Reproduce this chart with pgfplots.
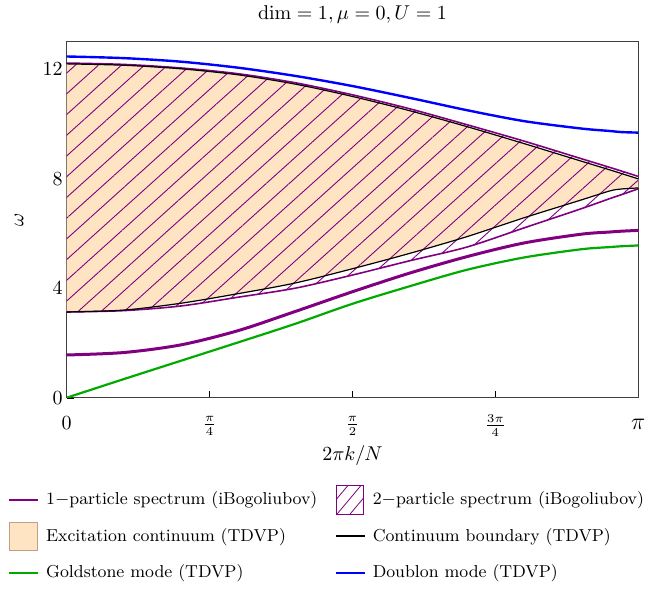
\documentclass[border=0pt]{standalone}
\usepackage{pgfplots}
\pgfplotsset{compat=1.18}
\usepgfplotslibrary{fillbetween}
\usetikzlibrary{patterns.meta}

\definecolor{mpurple}{RGB}{128,0,128}
\definecolor{mgreen}{RGB}{0,170,0}
\definecolor{mblue}{RGB}{0,0,255}
\definecolor{bisque}{RGB}{255,228,196}
\definecolor{bisqueedge}{RGB}{190,160,130}

\pgfplotsset{
    linelegend/.style={legend image code/.code={
        \path[draw=none, fill=none] (0pt,-7.5pt) rectangle (18.5pt,7.5pt);
        \draw[##1] (0pt,0pt) -- (14.5pt,0pt);}},
    boxlegend/.style={legend image code/.code={
        \path[draw=none, fill=none] (0pt,-7.5pt) rectangle (18.5pt,7.5pt);
        \draw[##1] (0.3pt,-7.2pt) rectangle (14pt,7.2pt);}},
}

% x = 2 pi k / N ; columns: doublon, upper/lower boundary of the
% iBogoliubov 2-particle band (P) and of the TDVP continuum (B),
% 1-particle branch, Goldstone mode
\pgfplotstableread{
x      doublon upP   upB   loB  loP  one  gold
0.0000 12.46  12.22 12.19 3.13 3.13 1.56 0.00
0.3142 12.40  12.17 12.14 3.20 3.18 1.65 0.68
0.6283 12.27  12.04 12.01 3.45 3.35 1.93 1.35
0.9425 12.05  11.83 11.79 3.80 3.67 2.45 2.02
1.2566 11.75  11.50 11.45 4.19 4.00 3.15 2.70
1.5708 11.38  11.06 11.00 4.71 4.48 3.87 3.43
1.8850 10.95  10.55 10.48 5.27 5.00 4.55 4.07
2.1991 10.50   9.97  9.90 5.88 5.50 5.15 4.67
2.5133 10.10   9.37  9.28 6.57 6.20 5.65 5.12
2.8274  9.83   8.73  8.64 7.22 6.90 5.97 5.42
2.9845  9.74   8.41  8.32 7.55 7.27 6.05 5.50
3.0473  9.70   8.28  8.19 7.62 7.41 6.08 5.53
3.1416  9.68   8.08  7.99 7.66 7.63 6.11 5.56
}\spectra

\newcommand{\fr}[2]{{\fontsize{9.2pt}{11pt}\selectfont$\frac{#1}{#2}$}}

\begin{document}
\begin{tikzpicture}
\begin{axis}[
    scale only axis,
    width=285.8pt,
    height=178pt,
    xmin=0, xmax=3.14159,
    ymin=0, ymax=13,
    xtick={0,0.785398,1.570796,2.356194,3.14159},
    xticklabels={$\vphantom{\frac{\pi}{4}}0$,\fr{\pi}{4},\fr{\pi}{2},\fr{3\pi}{4},{\large$\vphantom{\frac{\pi}{4}}\pi$}},
    xticklabel style={anchor=center, inner sep=0pt, yshift=-14pt},
    yticklabel style={xshift=1.5pt},
    ytick={0,4,8,12},
    xtick pos=left,
    ytick pos=left,
    tick align=inside,
    major tick length=3.5pt,
    tick style={black},
    axis line style={black!75},
    title={$\dim = 1, \mu = 0, U = 1$},
    every axis title/.style={at={(0.5,1)}, anchor=base, inner sep=0pt, yshift=10.85pt},
    xlabel={$2\pi k/N$},
    xlabel style={at={(0.5,0)}, anchor=center, yshift=-28.9pt},
    ylabel={$\omega$},
    every axis y label/.style={at={(-0.0833,0.5)}, rotate=90, anchor=center},
    legend columns=2,
    legend cell align=left,
    legend style={
        at={(-0.1025,-0.2452)}, anchor=north west,
        draw=none, inner sep=0pt, outer sep=0pt,
        font=\fontsize{8.65pt}{10.5pt}\selectfont,
        nodes={inner sep=0pt},
        row sep=3.25pt,
        /tikz/every even column/.append style={column sep=8.7pt},
    },
]
\coordinate (axBL) at (rel axis cs:0,0);
\coordinate (axTR) at (rel axis cs:1,1);

% shaded continuum and hatched band
\addplot [draw=none, smooth, name path=uB, forget plot] table [x=x, y=upB] {\spectra};
\addplot [draw=none, smooth, name path=lB, forget plot] table [x=x, y=loB] {\spectra};
\addplot [draw=none, smooth, name path=uP, forget plot] table [x=x, y=upP] {\spectra};
\addplot [draw=none, smooth, name path=lP, forget plot] table [x=x, y=loP] {\spectra};
\addplot [fill=bisque, draw=none, forget plot] fill between [of=uB and lB];
\addplot [pattern={Lines[angle=42, distance=7.7pt, line width=0.45pt]}, pattern color=mpurple, draw=none, forget plot] fill between [of=uP and lP];

% curves
\addplot [mpurple, line width=0.8pt, smooth, forget plot] table [x=x, y=upP] {\spectra};
\addplot [mpurple, line width=0.8pt, smooth, forget plot] table [x=x, y=loP] {\spectra};
\addplot [black, line width=0.6pt, smooth, forget plot] table [x=x, y=upB] {\spectra};
\addplot [black, line width=0.6pt, smooth, forget plot] table [x=x, y=loB] {\spectra};
\addplot [mgreen, line width=1.1pt, smooth, forget plot] table [x=x, y=gold] {\spectra};
\addplot [mpurple, line width=1.5pt, smooth, forget plot] table [x=x, y=one] {\spectra};
\addplot [mblue, line width=1.2pt, smooth, forget plot] table [x=x, y=doublon] {\spectra};

% legend
\addlegendimage{linelegend, mpurple, line width=1pt}
\addlegendentry{1$-$particle spectrum (iBogoliubov)}
\addlegendimage{boxlegend, draw=mpurple, pattern={Lines[angle=50, distance=5pt, line width=0.4pt]}, pattern color=mpurple}
\addlegendentry{2$-$particle spectrum (iBogoliubov)}
\addlegendimage{boxlegend, draw=bisqueedge, fill=bisque}
\addlegendentry{Excitation continuum (TDVP)}
\addlegendimage{linelegend, black, line width=1pt}
\addlegendentry{Continuum boundary (TDVP)}
\addlegendimage{linelegend, mgreen, line width=1pt}
\addlegendentry{Goldstone mode (TDVP)}
\addlegendimage{linelegend, mblue, line width=1pt}
\addlegendentry{Doublon mode (TDVP)}
\end{axis}
% page frame of the reference around the axis box
\path ([xshift=-33.35pt, yshift=-95.65pt]axBL) rectangle ([xshift=3.85pt, yshift=20.85pt]axTR);
\end{tikzpicture}
\end{document}
